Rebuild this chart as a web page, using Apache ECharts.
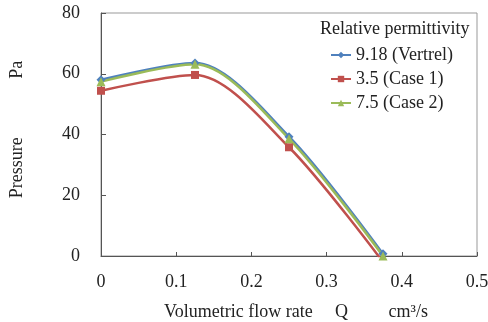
<!DOCTYPE html>
<html>
<head>
<meta charset="utf-8">
<script src="https://cdn.jsdelivr.net/npm/echarts@6/dist/echarts.min.js"></script>
<style>
  html, body { margin: 0; padding: 0; background: #fff; }
  #main { width: 488px; height: 322px; }
</style>
</head>
<body>
<div id="main"></div>
<script>
var flowRate = [0, 0.125, 0.25, 0.375];
var vertrel = [58, 63.5, 39.3, 0.7];
var case1 = [54.4, 59.6, 35.8, -2];
var case2 = [57.4, 63.1, 38.6, 0];
var seriesNames = ['9.18 (Vertrel)', '3.5 (Case 1)', '7.5 (Case 2)'];
var xTicks = [0, 0.1, 0.2, 0.3, 0.4, 0.5];
var yTicks = [0, 20, 40, 60, 80];

var font = 'Liberation Serif';

function pairs(ys) {
  return flowRate.map(function (x, i) { return [x, ys[i]]; });
}

function makeSeries(name, ys, color, symbol, size) {
  return {
    name: name,
    type: 'line',
    data: pairs(ys),
    smooth: 0.3,
    symbol: symbol,
    symbolSize: size,
    lineStyle: { color: color, width: 2.5 },
    itemStyle: { color: color },
    emphasis: { disabled: true }
  };
}

var chart = echarts.init(document.getElementById('main'), null, { renderer: 'canvas' });

var option = {
  animation: false,
  textStyle: { fontFamily: font, color: '#222' },
  title: {
    text: 'Relative permittivity',
    left: 320,
    top: 20,
    padding: 0,
    textStyle: { fontFamily: font, fontSize: 18, fontWeight: 'normal', color: '#222' }
  },
  legend: {
    orient: 'vertical',
    left: 330,
    top: 46,
    padding: 0,
    itemWidth: 20,
    itemHeight: 8,
    itemGap: 6,
    data: seriesNames,
    textStyle: { fontFamily: font, fontSize: 18, color: '#222' }
  },
  grid: {
    left: 101,
    right: 11,
    top: 13,
    bottom: 66,
    outerBoundsMode: 'none',
    containLabel: false,
    show: true,
    borderColor: '#999',
    borderWidth: 1
  },
  xAxis: {
    type: 'value',
    min: xTicks[0],
    max: xTicks[xTicks.length - 1],
    interval: 0.1,
    name: 'Volumetric flow rate     Q         cm³/s',
    nameLocation: 'middle',
    nameGap: 47,
    nameTextStyle: { fontFamily: font, fontSize: 18, color: '#222', padding: [0, 0, 0, 14] },
    axisLine: { lineStyle: { color: '#555', width: 1 } },
    axisTick: { inside: true, length: 4, lineStyle: { color: '#555' } },
    axisLabel: { margin: 17, fontFamily: font, fontSize: 18, color: '#222' },
    splitLine: { show: false }
  },
  yAxis: {
    type: 'value',
    min: yTicks[0],
    max: yTicks[yTicks.length - 1],
    interval: 20,
    name: 'Pressure             Pa',
    nameLocation: 'middle',
    nameGap: 75,
    nameTextStyle: { fontFamily: font, fontSize: 18, color: '#222', padding: [0, 0, 0, 10] },
    axisLine: { show: true, lineStyle: { color: '#555', width: 1 } },
    axisTick: { show: true, inside: true, length: 5, lineStyle: { color: '#555' } },
    axisLabel: { margin: 21, fontFamily: font, fontSize: 18, color: '#222' },
    splitLine: { show: false }
  },
  series: [
    makeSeries(seriesNames[0], vertrel, '#4F81BD', 'diamond', 9),
    makeSeries(seriesNames[1], case1, '#C0504D', 'rect', 8),
    makeSeries(seriesNames[2], case2, '#9BBB59', 'triangle', 9)
  ]
};

chart.setOption(option);
</script>
</body>
</html>
